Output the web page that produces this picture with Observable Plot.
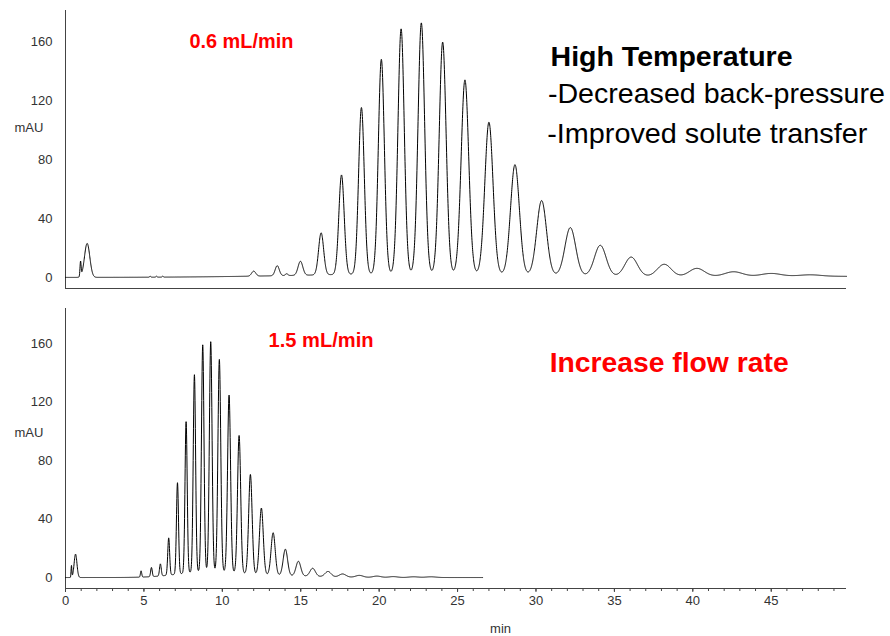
<!DOCTYPE html>
<html><head><meta charset="utf-8">
<script src="https://cdn.jsdelivr.net/npm/d3@7"></script>
<script src="https://cdn.jsdelivr.net/npm/@observablehq/plot@0.6"></script>
<style>
body{margin:0;background:#fff;}
#chart{position:relative;width:890px;height:636px;font-family:"Liberation Sans",Arial,sans-serif;}
#top{position:absolute;left:0;top:0}
#bottom{position:absolute;left:0;top:298px}
</style></head><body>
<div id="chart"><div id="top"></div><div id="bottom"></div></div>
<script>
// ---- data ----
const xMax = 49.8;                 // min
const yTicks = [0, 40, 80, 120, 160];
const xMajorTicks = [0, 5, 10, 15, 20, 25, 30, 35, 40, 45];
const xMinorTicks = d3.range(0, 50, 1);

// 0.6 mL/min run: peak retention times (min), heights (mAU), widths (sigma, min)
const topTimes   = [0.96, 1.38, 5.4, 5.8, 6.2, 12.0, 13.5, 14.1, 14.98, 16.3, 17.6, 18.87, 20.14, 21.4, 22.69, 24.05, 25.47, 27.0, 28.66, 30.36, 32.19, 34.1, 36.07, 38.18, 40.26, 42.6, 45.0, 47.5, 23.0, 46.0];
const topHeights = [10, 23, 0.6, 0.6, 0.6, 3.4, 6.8, 1.2, 9.5, 28.5, 67.5, 113, 145.5, 166, 170, 157, 131.5, 103, 74.5, 50.5, 32.5, 20.8, 13.0, 8.2, 5.4, 3.0, 1.8, 0.9, 2.6, 0.9];
const topWidths  = [0.035, 0.17, 0.04, 0.04, 0.04, 0.13, 0.13, 0.08, 0.15, 0.16, 0.17, 0.18, 0.19, 0.2, 0.21, 0.22, 0.24, 0.26, 0.28, 0.31, 0.34, 0.37, 0.4, 0.44, 0.48, 0.55, 0.6, 0.65, 7.5, 6.0];
const topEnd = 49.8;

// 1.5 mL/min run
const botTimes   = [0.38, 0.64, 4.82, 5.48, 6.05, 6.58, 7.14, 7.69, 8.22, 8.75, 9.26, 9.81, 10.43, 11.07, 11.79, 12.49, 13.24, 14.02, 14.85, 15.76, 16.74, 17.67, 18.74, 19.86, 20.9, 22.2, 23.3, 9.0, 12.5];
const botHeights = [8, 16, 4.3, 6.3, 8.3, 25.5, 62.5, 103.5, 135, 155, 157, 145, 121, 94, 68, 45.5, 29, 18, 10, 5.5, 3.6, 2.1, 1.3, 0.9, 0.6, 0.5, 0.5, 3.5, 1.5];
const botWidths  = [0.025, 0.09, 0.04, 0.05, 0.055, 0.06, 0.065, 0.07, 0.075, 0.08, 0.085, 0.09, 0.095, 0.1, 0.11, 0.12, 0.13, 0.14, 0.15, 0.17, 0.19, 0.21, 0.23, 0.25, 0.27, 0.3, 0.32, 1.8, 3.0];
const botEnd = 26.6;

// ---- build traces from the peak tables ----
function trace(times, heights, widths, end) {
  return d3.range(0, end + 1e-9, 0.01).map(t => {
    let v = 0;
    for (let i = 0; i < times.length; i++) {
      const z = (t - times[i]) / widths[i];
      v += heights[i] * Math.exp(-0.5 * z * z);
    }
    return {t, v};
  });
}
const topTrace = trace(topTimes, topHeights, topWidths, topEnd);
const botTrace = trace(botTimes, botHeights, botWidths, botEnd);

const font = '"Liberation Sans", Arial, sans-serif';
const topY = [-7.5, 181];
const botY = [-7.5, 184];

const fitWidths = new Map([
  ["0.6 mL/min", 104], ["High Temperature", 242], ["-Decreased back-pressure", 337],
  ["-Improved solute transfer", 320], ["1.5 mL/min", 105], ["Increase flow rate", 239]
]);
function fit(svg) {
  for (const el of svg.querySelectorAll("text")) {
    const w = fitWidths.get(el.textContent);
    if (w) { el.setAttribute("textLength", w); el.setAttribute("lengthAdjust", "spacingAndGlyphs"); }
  }
  return svg;
}

const topPlot = Plot.plot({
  width: 890, height: 300,
  marginLeft: 65, marginRight: 44, marginTop: 10, marginBottom: 12,
  x: {domain: [0, xMax], axis: null},
  y: {domain: topY},
  style: {fontFamily: font, color: "#333", background: "transparent", overflow: "visible"},
  marks: [
    Plot.axisY({ticks: yTicks, tickSize: 0, tickPadding: 13, fontSize: 13, label: null}),
    Plot.ruleX([0], {stroke: "#444"}),
    Plot.ruleY([topY[0]], {stroke: "#444"}),
    Plot.line(topTrace, {x: "t", y: "v", stroke: "#000", strokeWidth: 1}),
    Plot.text(["mAU"], {x: -3.25, y: 101.3, text: d => d, textAnchor: "start", fontSize: 13, fill: "#333"}),
    Plot.text(["0.6 mL/min"], {x: 7.9, y: 155.4, text: d => d, textAnchor: "start", lineAnchor: "bottom", fontSize: 20, fontWeight: "bold", fill: "#ff0000"}),
    Plot.text(["High Temperature"], {x: 30.93, y: 143.2, text: d => d, textAnchor: "start", lineAnchor: "bottom", fontSize: 28, fontWeight: "bold", fill: "#000"}),
    Plot.text(["-Decreased back-pressure"], {x: 30.76, y: 118.1, text: d => d, textAnchor: "start", lineAnchor: "bottom", fontSize: 28, fill: "#000"}),
    Plot.text(["-Improved solute transfer"], {x: 30.72, y: 91.3, text: d => d, textAnchor: "start", lineAnchor: "bottom", fontSize: 28, fill: "#000"})
  ]
});
document.getElementById("top").append(fit(topPlot));

const botPlot = Plot.plot({
  width: 890, height: 338,
  marginLeft: 65, marginRight: 44, marginTop: 10, marginBottom: 48,
  x: {domain: [0, xMax]},
  y: {domain: botY},
  style: {fontFamily: font, color: "#333", background: "transparent", overflow: "visible"},
  marks: [
    Plot.axisY({ticks: yTicks, tickSize: 0, tickPadding: 13, fontSize: 13, label: null}),
    Plot.axisX({ticks: xMinorTicks, tickSize: 3, tickFormat: () => "", label: null, stroke: "#444"}),
    Plot.axisX({ticks: xMajorTicks, tickSize: 4, tickPadding: 3, fontSize: 13, label: null, stroke: "#444"}),
    Plot.ruleX([0], {stroke: "#444"}),
    Plot.ruleY([botY[0]], {stroke: "#444"}),
    Plot.line(botTrace, {x: "t", y: "v", stroke: "#000", strokeWidth: 1}),
    Plot.text(["mAU"], {x: -3.25, y: 99, text: d => d, textAnchor: "start", fontSize: 13, fill: "#333"}),
    Plot.text(["min"], {x: 27.74, y: -35.1, text: d => d, fontSize: 13, fill: "#333"}),
    Plot.text(["1.5 mL/min"], {x: 12.95, y: 157.5, text: d => d, textAnchor: "start", lineAnchor: "bottom", fontSize: 20, fontWeight: "bold", fill: "#ff0000"}),
    Plot.text(["Increase flow rate"], {x: 30.87, y: 140.4, text: d => d, textAnchor: "start", lineAnchor: "bottom", fontSize: 28, fontWeight: "bold", fill: "#ff0000"})
  ]
});
document.getElementById("bottom").append(fit(botPlot));
</script>
</body></html>
